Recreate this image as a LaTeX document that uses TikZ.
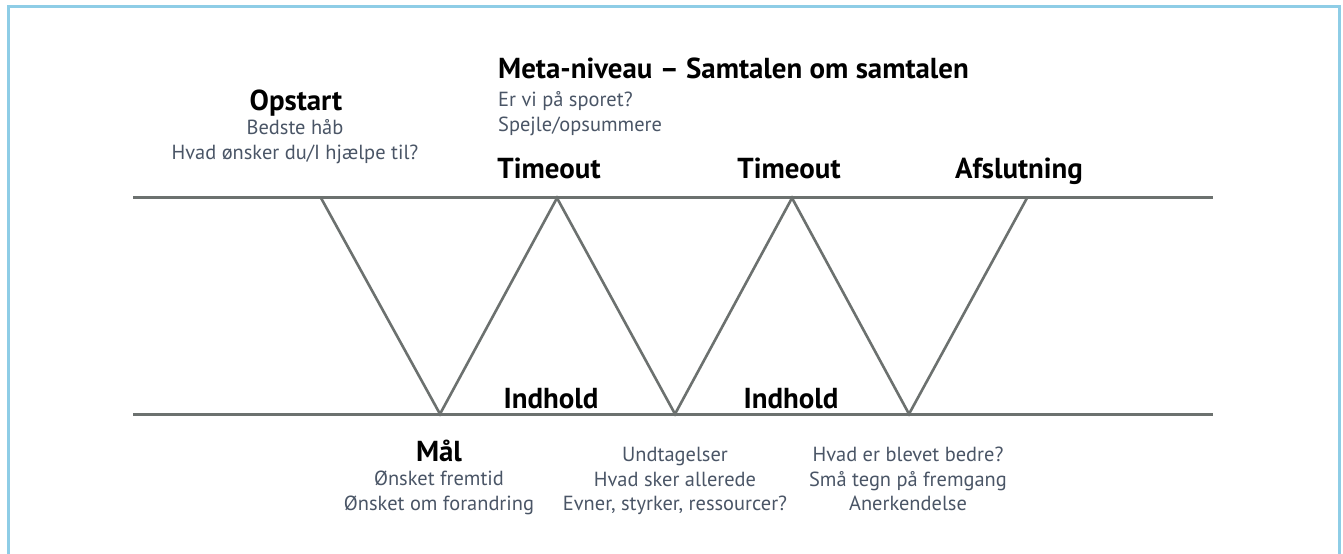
\documentclass[tikz,border=0pt]{standalone}
\usepackage{fontspec}
\setmainfont{PT Sans}
\definecolor{framec}{HTML}{8ECDE6}
\definecolor{linec}{HTML}{6C716F}
\definecolor{subc}{HTML}{4A5566}
\begin{document}
\begin{tikzpicture}[x=1bp,y=-1bp,
  hd/.style={font=\bfseries\fontsize{29}{33}\selectfont, text=black, inner sep=0pt, anchor=base},
  sb/.style={font=\fontsize{20.5}{25}\selectfont, text=subc, inner sep=0pt, anchor=base, align=center},
  sbl/.style={font=\fontsize{20.5}{25}\selectfont, text=subc, inner sep=0pt, anchor=base west, align=left},
  rail/.style={draw=linec, line width=3bp},
  zig/.style={draw=linec, line width=2.6bp, line join=miter}]
\useasboundingbox (0,0) rectangle (1343,554);
\fill[white] (0,0) rectangle (1343,554);
\draw[framec, line width=2.6bp] (8.7,560) -- (8.7,6.3) -- (1339.7,6.3) -- (1339.7,560);
% rails
\coordinate (tl) at (133,198);
\coordinate (tr) at (1213,198);
\coordinate (bl) at (133,414);
\coordinate (br) at (1213,414);
\draw[rail] (tl) -- (tr);
\draw[rail] (bl) -- (br);
% zigzag vertices
\coordinate (t1) at (321,198);
\coordinate (b1) at (440,414);
\coordinate (t2) at (557,198);
\coordinate (b2) at (675,414);
\coordinate (t3) at (792,198);
\coordinate (b3) at (909,414);
\coordinate (t4) at (1027,198);
\draw[zig] (t1) -- (b1) -- (t2) -- (b2) -- (t3) -- (b3) -- (t4);
% top texts
\node[hd] (opstart) at (296,111) {Opstart};
\node[sb] (op1) at (295,135) {Bedste håb};
\node[sb] (op2) at (295,160) {Hvad ønsker du/I hjælpe til?};
\node[hd, anchor=base west] (meta) at (498,79) {Meta-niveau – Samtalen om samtalen};
\node[sbl] (meta1) at (498,107) {Er vi på sporet?};
\node[sbl] (meta2) at (498,132) {Spejle/opsummere};
\node[hd] (to1) at (549,179) {Timeout};
\node[hd] (to2) at (789,179) {Timeout};
\node[hd] (afs) at (1019,179) {Afslutning};
% bottom
\node[hd] (ind1) at (551,408) {Indhold};
\node[hd] (ind2) at (791,408) {Indhold};
\node[hd] (maal) at (439,461) {Mål};
\node[sb] (m1) at (439,485) {Ønsket fremtid};
\node[sb] (m2) at (439,510) {Ønsket om forandring};
\node[sb] (u1) at (675,461) {Undtagelser};
\node[sb] (u2) at (675,486) {Hvad sker allerede};
\node[sb] (u3) at (675,510) {Evner, styrker, ressourcer?};
\node[sb] (h1) at (908,461) {Hvad er blevet bedre?};
\node[sb] (h2) at (908,486) {Små tegn på fremgang};
\node[sb] (h3) at (908,510) {Anerkendelse};
\end{tikzpicture}
\end{document}
